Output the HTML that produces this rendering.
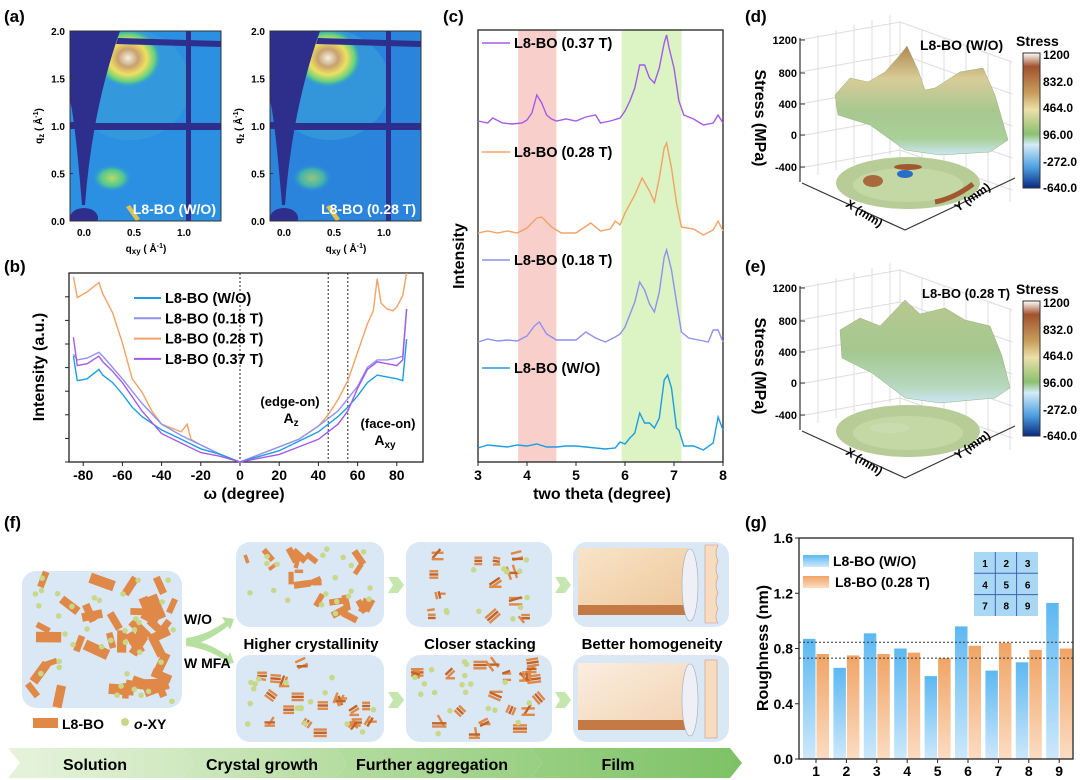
<!DOCTYPE html>
<html><head><meta charset="utf-8"><style>
body{margin:0;background:#fff}
svg{display:block;font-family:"Liberation Sans",Arial,sans-serif}
.b{font-weight:bold}
</style></head><body>
<svg id="fig" width="1080" height="780" viewBox="0 0 1080 780">
<defs>
<radialGradient id="ringG" cx="0.5" cy="0.5" r="0.5"><stop offset="0" stop-color="#f4f0e0"/><stop offset="0.3" stop-color="#c8a070"/><stop offset="0.55" stop-color="#f0e060"/><stop offset="0.8" stop-color="#60d080"/><stop offset="1" stop-color="#2a8ee0" stop-opacity="0"/></radialGradient>
<radialGradient id="lowG" cx="0.5" cy="0.5" r="0.5"><stop offset="0" stop-color="#c0e060"/><stop offset="0.6" stop-color="#50c890"/><stop offset="1" stop-color="#2a8ee0" stop-opacity="0"/></radialGradient>
<linearGradient id="gBlue" x1="0" y1="0" x2="0" y2="1"><stop offset="0" stop-color="#5cb8f2"/><stop offset="1" stop-color="#cde8fb"/></linearGradient>
<linearGradient id="gOrg" x1="0" y1="0" x2="0" y2="1"><stop offset="0" stop-color="#f0a465"/><stop offset="1" stop-color="#fcdcc2"/></linearGradient>
<linearGradient id="cbar" x1="0" y1="0" x2="0" y2="1"><stop offset="0" stop-color="#ffffff"/><stop offset="0.1" stop-color="#a0522d"/><stop offset="0.3" stop-color="#c9a05e"/><stop offset="0.42" stop-color="#ece0a8"/><stop offset="0.6" stop-color="#8cc070"/><stop offset="0.68" stop-color="#d4ecf8"/><stop offset="0.85" stop-color="#4a9ee0"/><stop offset="1" stop-color="#0a2a80"/></linearGradient>
<linearGradient id="surfD" x1="0" y1="0" x2="0" y2="1"><stop offset="0" stop-color="#b08850"/><stop offset="0.3" stop-color="#d8cc98"/><stop offset="0.6" stop-color="#a8c890"/><stop offset="0.85" stop-color="#a8d098"/><stop offset="1" stop-color="#cce6f4"/></linearGradient>
<linearGradient id="surfE" x1="0" y1="0" x2="0" y2="1"><stop offset="0" stop-color="#b8c890"/><stop offset="0.5" stop-color="#a4c890"/><stop offset="0.85" stop-color="#b8d8c0"/><stop offset="1" stop-color="#cce6f4"/></linearGradient>
<linearGradient id="ban1" x1="0" y1="0" x2="1" y2="0"><stop offset="0" stop-color="#e6f3dc"/><stop offset="1" stop-color="#cfe8bf"/></linearGradient>
<linearGradient id="ban2" x1="0" y1="0" x2="1" y2="0"><stop offset="0" stop-color="#cfe8bf"/><stop offset="1" stop-color="#b4dca0"/></linearGradient>
<linearGradient id="ban3" x1="0" y1="0" x2="1" y2="0"><stop offset="0" stop-color="#b4dca0"/><stop offset="1" stop-color="#98cf82"/></linearGradient>
<linearGradient id="ban4" x1="0" y1="0" x2="1" y2="0"><stop offset="0" stop-color="#98cf82"/><stop offset="1" stop-color="#7dc266"/></linearGradient>
<linearGradient id="film1" x1="0" y1="0" x2="1" y2="1"><stop offset="0" stop-color="#f8e4c8"/><stop offset="1" stop-color="#eec89c"/></linearGradient>
<linearGradient id="film2" x1="0" y1="0" x2="1" y2="1"><stop offset="0" stop-color="#fbeee0"/><stop offset="1" stop-color="#f2d4b4"/></linearGradient>
<clipPath id="clipA0"><rect x="70" y="31" width="151" height="190"/></clipPath>
<clipPath id="clipA1"><rect x="270" y="31" width="151" height="190"/></clipPath>
</defs>

<g class="b" font-size="17">
<text x="4" y="22">(a)</text>
<text x="4" y="272">(b)</text>
<text x="443" y="22">(c)</text>
<text x="745" y="22">(d)</text>
<text x="745" y="272">(e)</text>
<text x="4" y="528">(f)</text>
<text x="745" y="528">(g)</text>
</g>

<g id="panelA"></g>
<g id="panelB"></g>
<g id="panelC"></g>
<g id="panelD"></g>
<g id="panelE"></g>
<g id="panelF"></g>
<g id="panelG"></g>
</svg>
<script>
const NS="http://www.w3.org/2000/svg";
function mk(parent,tag,attrs,txt){const e=document.createElementNS(NS,tag);for(const k in attrs)e.setAttribute(k,attrs[k]);if(txt!==undefined)e.textContent=txt;parent.appendChild(e);return e;}

/* ---------- Panel (b) data ---------- */
const bAngles=[
 [-85,-83,-78,-72,-70,-65,-60,-55,-50,-40,-30,-20,-10,0,10,20,30,40,50,55,60,65,70,75,80,83,85],
 [-85,-83,-78,-72,-70,-65,-60,-50,-40,-30,-20,-10,0,10,20,30,40,50,60,65,70,75,80,83,85],
 [-85,-83,-78,-72,-70,-65,-60,-55,-50,-48,-45,-40,-35,-30,-27,-25,-20,-10,0,10,20,30,40,45,50,55,60,65,68,70,72,75,78,80,83,85],
 [-85,-83,-78,-72,-70,-65,-60,-50,-40,-30,-20,-10,0,10,20,30,40,50,55,60,65,70,75,80,83,85]];
const bWO=[0.56,0.43,0.44,0.49,0.46,0.42,0.36,0.29,0.24,0.17,0.12,0.07,0.04,0,0.03,0.06,0.11,0.16,0.24,0.29,0.35,0.42,0.46,0.45,0.44,0.43,0.65];
const b018=[0.57,0.54,0.55,0.58,0.56,0.50,0.44,0.31,0.20,0.14,0.09,0.04,0,0.04,0.08,0.12,0.19,0.27,0.40,0.50,0.54,0.54,0.55,0.56,0.81];
const b028=[0.98,0.87,0.90,0.95,0.89,0.79,0.63,0.44,0.37,0.33,0.27,0.20,0.18,0.16,0.20,0.12,0.09,0.04,0,0.04,0.08,0.12,0.19,0.25,0.33,0.43,0.58,0.73,0.80,0.97,0.84,0.81,0.80,0.82,0.88,1.0];
const b037=[0.66,0.51,0.52,0.56,0.53,0.48,0.42,0.27,0.15,0.10,0.05,0.03,0,0.02,0.04,0.08,0.12,0.20,0.27,0.39,0.49,0.53,0.52,0.51,0.54,0.81];
const bNames=["L8-BO (W/O)","L8-BO (0.18 T)","L8-BO (0.28 T)","L8-BO (0.37 T)"];
const bTicks=[-80,-60,-40,-20,0,20,40,60,80];
const bGuides=[0,45,55];

/* ---------- Panel (c) data ---------- */
const cTheta=[
 [3.0,3.2,3.4,3.6,3.8,4.0,4.2,4.4,4.6,4.8,5.0,5.2,5.4,5.6,5.8,5.9,6.0,6.1,6.2,6.3,6.4,6.5,6.6,6.7,6.8,6.87,6.95,7.05,7.1,7.2,7.4,7.6,7.8,7.9,8.0],
 [3.0,3.2,3.4,3.6,3.8,4.0,4.15,4.25,4.4,4.6,4.8,5.0,5.2,5.4,5.6,5.8,5.9,6.0,6.2,6.3,6.4,6.5,6.6,6.7,6.8,6.85,6.95,7.05,7.15,7.3,7.5,7.7,7.8,7.9,8.0],
 [3.0,3.2,3.4,3.6,3.8,4.0,4.2,4.3,4.5,4.7,5.0,5.3,5.5,5.7,5.8,5.9,6.0,6.2,6.35,6.5,6.6,6.7,6.8,6.85,6.95,7.05,7.15,7.4,7.6,7.8,7.9,8.0],
 [3.0,3.2,3.3,3.5,3.7,3.9,4.0,4.1,4.2,4.3,4.4,4.5,4.6,4.8,5.0,5.2,5.4,5.5,5.7,5.9,6.0,6.1,6.2,6.3,6.4,6.5,6.6,6.7,6.8,6.85,6.9,7.0,7.1,7.2,7.4,7.6,7.8,7.9,8.0]];
const cWO=[0,3,2,1,3,2,4,1,1,2,2,1,0,-1,0,6,4,10,15,35,25,25,20,30,68,73,60,20,18,2,2,-2,5,31,18];
const c018=[0,3,1,2,1,6,16,20,8,2,2,2,10,4,0,5,8,15,40,60,52,38,30,50,85,92,72,40,10,4,2,0,12,12,0];
const c028=[0,2,0,2,0,5,15,16,6,0,0,10,2,4,12,8,20,38,55,42,31,55,85,90,65,30,6,4,-2,3,12,2];
const c037=[2,0,5,0,-1,0,3,10,28,20,8,4,2,4,2,6,8,0,2,5,12,22,35,58,58,45,40,55,80,88,75,55,22,8,4,-2,0,8,0];
const cOffsets=[14,120,229,339];
const cTicks=[3,4,5,6,7,8];
const cBands=[[3.82,4.6],[5.93,7.15]];

/* ---------- Panel (g) data ---------- */
const gCats=["1","2","3","4","5","6","7","8","9"];
const gWO=[0.87,0.66,0.91,0.80,0.60,0.96,0.64,0.70,1.13];
const g028=[0.76,0.75,0.76,0.77,0.73,0.82,0.84,0.79,0.80];
const gTicks=[0.0,0.4,0.8,1.2,1.6];
const gRefs=[0.845,0.73];

const colsB=["#1c9ee2","#9090f0","#f2a266","#a45ae8"];

/* ================= Panel A ================= */
(function(){
 const P=document.getElementById('panelA');
 [[70,"L8-BO (W/O)",0],[270,"L8-BO (0.28 T)",1]].forEach(([x0,lab,k])=>{
  const g=mk(P,'g',{});
  
  
  const c=mk(g,'g',{'clip-path':'url(#clipA'+k+')'});
  mk(c,'rect',{x:x0,y:31,width:151,height:190,fill:k?'#2a84dc':'#2b90e2'});
  mk(c,'ellipse',{cx:x0+60,cy:85,rx:60,ry:55,fill:'#3aa0d8',opacity:0.6});
  mk(c,'ellipse',{cx:x0+58,cy:58,rx:34,ry:30,fill:'url(#ringG)'});
  mk(c,'ellipse',{cx:x0+42,cy:178,rx:20,ry:14,fill:'url(#lowG)',opacity:k?0.7:0.95});
  mk(c,'path',{d:`M${x0+60},${205} l10,14 l-4,2 l-10,-14z`,fill:'#e0c050'});
  mk(c,'path',{d:`M${x0},31 L${x0+50},31 Q${x0+22},110 ${x0+15},205 L${x0+12},205 Q${x0+5},120 ${x0},100 Z`,fill:'#2e2e8c'});
  mk(c,'rect',{x:x0+15,y:123,width:136,height:7,fill:'#2e2e8c'});
  mk(c,'rect',{x:x0,y:122,width:10,height:7,fill:'#2e2e8c'});
  mk(c,'path',{d:`M${x0+48},38 L${x0+151},41 L${x0+151},47 L${x0+46},44Z`,fill:'#2e2e8c'});
  mk(c,'rect',{x:x0+116,y:31,width:5,height:190,fill:'#2e2e8c'});
  mk(c,'ellipse',{cx:x0+14,cy:218,rx:14,ry:10,fill:'#2e2e8c'});
  mk(g,'rect',{x:x0,y:31,width:151,height:190,fill:'none',stroke:'#333','stroke-width':1});
  const t=mk(g,'text',{x:x0+146,y:214,'text-anchor':'end',fill:'#fff','font-size':14,'font-weight':'bold'},lab);
  
  
  ["2.0","1.5","1.0","0.5","0.0"].forEach((s,i)=>{
   const y=31+i*47.5;
   mk(g,'text',{x:x0-5,y:y+4,'text-anchor':'end','font-size':10,'font-weight':'bold'},s);
   mk(g,'line',{x1:x0,x2:x0+3,y1:y,y2:y,stroke:'#333'});
  });
  ["0.0","0.5","1.0"].forEach((s,i)=>{
   const x=x0+14+i*50;
   mk(g,'text',{x:x,y:236,'text-anchor':'middle','font-size':10,'font-weight':'bold'},s);
  });
  const xt=mk(g,'text',{x:x0+76,y:252,'text-anchor':'middle','font-size':10,'font-weight':'bold'});
  xt.innerHTML='q<tspan font-size="8" dy="2">xy</tspan><tspan dy="-2"> ( Å</tspan><tspan font-size="7" dy="-4">-1</tspan><tspan dy="4">)</tspan>';
  
  
  const yt=mk(g,'text',{transform:`translate(${x0-28},126) rotate(-90)`,'text-anchor':'middle','font-size':10,'font-weight':'bold'});
  yt.innerHTML='q<tspan font-size="8" dy="2">z</tspan><tspan dy="-2"> ( Å</tspan><tspan font-size="7" dy="-4">-1</tspan><tspan dy="4">)</tspan>';
  
  
 });
})();

/* ================= Panel B ================= */
(function(){
 const P=document.getElementById('panelB');
 const L=69,R=423,T=273,B=462;
 const xb=w=>240+w*1.96, yb=v=>B-v*189;
 mk(P,'rect',{x:L,y:T,width:R-L,height:B-T,fill:'none',stroke:'#222','stroke-width':1.3});
 bTicks.forEach(t=>{
  mk(P,'line',{x1:xb(t),x2:xb(t),y1:B,y2:B+4,stroke:'#222'});
  const lb=mk(P,'text',{x:xb(t),y:480,'text-anchor':'middle','font-size':14,'font-weight':'bold'},String(t));
  
  
 });
 for(let i=0;i<8;i++){mk(P,'line',{x1:L-4,x2:L,y1:B-i*23.6,y2:B-i*23.6,stroke:'#222'});}
 bGuides.forEach(g=>{
  const l=mk(P,'line',{x1:xb(g),x2:xb(g),y1:T,y2:B,stroke:'#222','stroke-dasharray':'2,2'});
  
  
 });
 const series=[bWO,b018,b028,b037];
 [2,1,0,3].forEach(k=>{
  const d=bAngles[k].map((w,i)=>(i?'L':'M')+xb(w).toFixed(1)+','+yb(Math.min(series[k][i],1)).toFixed(1)).join(' ');
  const p=mk(P,'path',{d:d,fill:'none',stroke:colsB[k],'stroke-width':1.4});
  
  
 });
 bNames.forEach((n,i)=>{
  const y=303+i*20.3;
  mk(P,'line',{x1:134,x2:161,y1:y-5,y2:y-5,stroke:colsB[i],'stroke-width':2});
  const t=mk(P,'text',{x:165,y:y,'font-size':14.5,'font-weight':'bold'},n);
  
  
 });
 mk(P,'text',{x:290,y:406,'text-anchor':'middle','font-size':13,'font-weight':'bold'},'(edge-on)');
 const az=mk(P,'text',{x:291,y:423,'text-anchor':'middle','font-size':14,'font-weight':'bold'});az.innerHTML='A<tspan font-size="10" dy="3">z</tspan>';
 mk(P,'text',{x:388,y:428,'text-anchor':'middle','font-size':13,'font-weight':'bold'},'(face-on)');
 const axy=mk(P,'text',{x:385,y:445,'text-anchor':'middle','font-size':14,'font-weight':'bold'});axy.innerHTML='A<tspan font-size="10" dy="3">xy</tspan>';
 const yt=mk(P,'text',{transform:'translate(44,367) rotate(-90)','text-anchor':'middle','font-size':16,'font-weight':'bold'},'Intensity (a.u.)');
 
 
 const xt=mk(P,'text',{x:244,y:499,'text-anchor':'middle','font-size':16,'font-weight':'bold'},'ω (degree)');
 
 
})();

/* ================= Panel C ================= */
(function(){
 const P=document.getElementById('panelC');
 const L=478,R=723,T=30,B=462;
 const xc=t=>L+(t-3)/5*(R-L), yc=v=>B-v;
 cBands.forEach((b,i)=>{
  const r=mk(P,'rect',{x:xc(b[0]),y:T,width:xc(b[1])-xc(b[0]),height:B-T,fill:i?'#dcf3c4':'#f8cfcb'});
  
  
 });
 mk(P,'rect',{x:L,y:T,width:R-L,height:B-T,fill:'none',stroke:'#222','stroke-width':1.3});
 cTicks.forEach(t=>{
  mk(P,'line',{x1:xc(t),x2:xc(t),y1:B,y2:B+4,stroke:'#222'});
  const lb=mk(P,'text',{x:xc(t),y:480,'text-anchor':'middle','font-size':14,'font-weight':'bold'},String(t));
  
  
 });
 const series=[cWO,c018,c028,c037];
 const names=["L8-BO (W/O)","L8-BO (0.18 T)","L8-BO (0.28 T)","L8-BO (0.37 T)"];
 series.forEach((s,k)=>{
  const d=cTheta[k].map((t,i)=>(i?'L':'M')+xc(t).toFixed(1)+','+yc(cOffsets[k]+s[i]).toFixed(1)).join(' ');
  const p=mk(P,'path',{d:d,fill:'none',stroke:colsB[k],'stroke-width':1.4});
  
  
  const ly=[368,260,152,43][k];
  mk(P,'line',{x1:482,x2:510,y1:ly,y2:ly,stroke:colsB[k],'stroke-width':1.5});
  const t=mk(P,'text',{x:514,y:ly+5,'font-size':14.5,'font-weight':'bold'},names[k]);
  
  
 });
 const yt=mk(P,'text',{transform:'translate(464,256) rotate(-90)','text-anchor':'middle','font-size':16,'font-weight':'bold'},'Intensity');
 
 
 const xt=mk(P,'text',{x:602,y:499,'text-anchor':'middle','font-size':16,'font-weight':'bold'},'two theta (degree)');
 
 
})();

/* ================= Panels D/E ================= */
function stress(P,label,surf,pts,wo){
 const g=mk(P,'g',{});
 for(let i=0;i<6;i++){
  mk(g,'line',{x1:800+i*18,y1:40-i*5,x2:800+i*18,y2:180-i*5,stroke:'#ddd'});
  mk(g,'line',{x1:900+i*22,y1:22+i*8,x2:900+i*22,y2:162+i*8,stroke:'#ddd'});
 }
 for(let j=0;j<5;j++){
  const y=40+j*32;
  mk(g,'line',{x1:800,y1:y,x2:900,y2:y-18,stroke:'#ddd'});
  mk(g,'line',{x1:900,y1:y-18,x2:1012,y2:y+22,stroke:'#ddd'});
 }
 mk(g,'line',{x1:800,y1:38,x2:800,y2:182,stroke:'#333','stroke-width':1.2});
 [["1200",40],["800",73],["400",104],["0",135],["-400",167]].forEach(([s,y])=>{
  mk(g,'text',{x:797,y:y+4,'text-anchor':'end','font-size':11,'font-weight':'bold'},s);
  mk(g,'line',{x1:800,x2:805,y1:y,y2:y,stroke:'#333'});
 });
 mk(g,'text',{transform:'translate(755,118) rotate(90)','text-anchor':'middle','font-size':16,'font-weight':'bold'},'Stress (MPa)');
 mk(g,'path',{d:'M802,183 L905,230 L1015,178',fill:'none',stroke:'#333','stroke-width':1.2});
 mk(g,'ellipse',{cx:908,cy:183,rx:72,ry:26,fill:'#b8cc98'});
 mk(g,'ellipse',{cx:908,cy:185,rx:55,ry:17,fill:'#c4d8a6'});
 if(wo){
  mk(g,'ellipse',{cx:908,cy:167,rx:14,ry:3,fill:'#a0582e'});
  mk(g,'ellipse',{cx:873,cy:181,rx:10,ry:6,fill:'#a86a3c'});
  mk(g,'ellipse',{cx:905,cy:174,rx:8,ry:4,fill:'#2a6ec8'});
  mk(g,'path',{d:'M935,202 q20,-4 38,-18',fill:'none',stroke:'#a0582e','stroke-width':5});
 } else {
  mk(g,'ellipse',{cx:890,cy:180,rx:20,ry:5,fill:'#c8dcb0'});
 }
 mk(g,'text',{transform:'translate(845,206) rotate(32)','font-size':12,'font-weight':'bold'},'X (mm)');
 mk(g,'text',{transform:'translate(958,212) rotate(-35)','font-size':12,'font-weight':'bold'},'Y (mm)');
 mk(g,'polygon',{points:pts,fill:'url(#'+surf+')',stroke:'#9ab080','stroke-width':0.5});
 mk(g,'text',{x:wo?920:922,y:50,'font-size':wo?14:13,'font-weight':'bold'},label);
 mk(g,'text',{x:1016,y:46,'font-size':14,'font-weight':'bold'},'Stress');
 mk(g,'rect',{x:1023,y:53,width:17,height:135,fill:'url(#cbar)',stroke:'#333'});
 [["1200",55],["832.0",82],["464.0",108],["96.00",135],["-272.0",162],["-640.0",188]].forEach(([s,y])=>{
  mk(g,'text',{x:1043,y:y+4,'font-size':12,'font-weight':'bold'},s);
 });
 return g;
}
(function(){
 const d=stress(document.getElementById('panelD'),'L8-BO (W/O)','surfD','835,95 850,78 868,82 885,72 900,55 907,46 918,70 925,90 935,88 960,72 983,68 995,95 1008,140 990,152 940,155 905,150 870,125 838,115',true);
 
 
 const e=stress(document.getElementById('panelE'),'L8-BO (0.28 T)','surfE','840,82 860,70 880,78 905,52 920,66 945,60 965,72 990,78 1002,108 1010,140 995,150 940,155 905,150 872,125 842,110',false);
 e.setAttribute('transform','translate(0,248)');
 
 
})();

/* ================= Panel F ================= */
(function(){
 const P=document.getElementById('panelF');
 let seed=7;const rnd=()=>{seed=(seed*16807)%2147483647;return seed/2147483647;};
 function box(x,y,w,h,name){const r=mk(P,'rect',{x:x,y:y,width:w,height:h,rx:14,fill:'#dae8f5'});
  
  }
 function flakes(x,y,w,h,n,stack,size){
  for(let i=0;i<n;i++){const cx=x+10+rnd()*(w-20),cy=y+8+rnd()*(h-16),a=rnd()*180;
   const s=size*(0.6+rnd()*0.6);
   const reps=stack?3:1;
   for(let k=0;k<reps;k++) mk(P,'rect',{x:cx-s/2,y:cy-s/4+k*3.2,width:s,height:stack?2.4:s/2.4,fill:k%2?'#c26428':'#e08848',transform:`rotate(${stack?(rnd()<0.5?0:a):a} ${cx} ${cy})`});
  }
  for(let i=0;i<n*0.9;i++){mk(P,'circle',{cx:x+8+rnd()*(w-16),cy:y+6+rnd()*(h-12),r:2.8,fill:'#c8d88a'});}
 }
 box(22,571,160,137,'solution-box');flakes(22,571,160,137,40,false,22);
 box(236,542,148,85,'crystal-growth-wo');flakes(236,542,148,85,22,false,14);
 box(406,542,146,85,'aggregation-wo');flakes(406,542,146,85,12,true,12);
 box(573,542,156,85,'film-wo');
 box(236,655,148,87,'crystal-growth-mfa');flakes(236,655,148,87,18,true,11);
 box(406,655,146,87,'aggregation-mfa');flakes(406,655,146,87,20,true,12);
 box(573,655,156,87,'film-mfa');
 mk(P,'path',{d:'M578,548 L688,548 L688,607 Q640,612 578,607Z',fill:'url(#film1)'});
 mk(P,'rect',{x:578,y:605,width:110,height:10,fill:'#c47a44'});
 mk(P,'path',{d:'M578,663 L688,663 L688,722 L578,722Z',fill:'url(#film2)'});
 mk(P,'rect',{x:578,y:720,width:110,height:10,fill:'#c47a44'});
 mk(P,'ellipse',{cx:690,cy:585,rx:8,ry:36,fill:'#eef0f6',stroke:'#9ab','stroke-width':0.6});
 mk(P,'ellipse',{cx:690,cy:700,rx:8,ry:36,fill:'#eef0f6',stroke:'#9ab','stroke-width':0.6});
 mk(P,'path',{d:'M705,545 L718,545 q-4,8 0,16 q-4,8 0,16 q-4,8 0,16 q-4,8 0,16 q-4,8 0,14 L705,623Z',fill:'#f8dcc0',stroke:'#c98','stroke-width':0.6});
 mk(P,'rect',{x:705,y:660,width:12,height:78,fill:'#f8dcc0',stroke:'#c98','stroke-width':0.6});
 [[388,585],[555,585],[388,700],[555,700]].forEach(([x,y])=>mk(P,'polygon',{points:`${x},${y-8} ${x+10},${y-8} ${x+16},${y} ${x+10},${y+8} ${x},${y+8} ${x+5},${y}`,fill:'#c6e6b0'}));
 mk(P,'path',{d:'M186,638 Q205,636 225,622 l-3,-5 l12,2 l-4,11 l-2,-4 Q205,644 186,646Z',fill:'#b6e0a0'});
 mk(P,'path',{d:'M186,646 Q205,648 225,660 l-3,5 l12,-2 l-4,-11 l-2,4 Q205,640 186,640Z',fill:'#b6e0a0'});
 mk(P,'text',{x:184,y:624,'font-size':14,'font-weight':'bold'},'W/O');
 mk(P,'text',{x:184,y:668,'font-size':14,'font-weight':'bold'},'W MFA');
 [["Higher crystallinity",311],["Closer stacking",480],["Better homogeneity",652]].forEach(([s,x])=>{
  const t=mk(P,'text',{x:x,y:649,'text-anchor':'middle','font-size':15,'font-weight':'bold'},s);
  
  
 });
 mk(P,'rect',{x:33,y:718,width:25,height:10,fill:'#e08848'});
 mk(P,'text',{x:62,y:729,'font-size':14,'font-weight':'bold'},'L8-BO');
 mk(P,'circle',{cx:125,cy:722,r:4,fill:'#c8d88a'});
 mk(P,'text',{x:134,y:729,'font-size':14,'font-weight':'bold','font-style':'italic'},'o');
 mk(P,'text',{x:143,y:729,'font-size':14,'font-weight':'bold'},'-XY');
 const chev=[[8,182,'ban1','Solution',95],[182,335,'ban2','Crystal growth',262],[335,530,'ban3','Further aggregation',432],[530,730,'ban4','Film',618]];
 chev.forEach(([a,b,f,s,tx])=>{
  const pg=mk(P,'polygon',{points:`${a},748 ${b},748 ${b+12},763 ${b},778 ${a},778 ${a+12},763`,fill:'url(#'+f+')'});
  
  
  mk(P,'text',{x:tx,y:770,'text-anchor':'middle','font-size':16,'font-weight':'bold'},s);
 });
})();

/* ================= Panel G ================= */
(function(){
 const P=document.getElementById('panelG');
 const L=799,R=1073,T=538,B=759;
 const yg=v=>B-v/1.6*(B-T);
 const xg=i=>816+i*30.4;
 gWO.forEach((v,i)=>{
  const r=mk(P,'rect',{x:xg(i)-13,y:yg(v),width:12.5,height:B-yg(v),fill:'url(#gBlue)'});
  
  
 });
 g028.forEach((v,i)=>{
  const r=mk(P,'rect',{x:xg(i)+0.5,y:yg(v),width:12.5,height:B-yg(v),fill:'url(#gOrg)'});
  
  
 });
 gRefs.forEach(v=>{
  const l=mk(P,'line',{x1:L,x2:R,y1:yg(v),y2:yg(v),stroke:'#333','stroke-dasharray':'2,2'});
  
  
 });
 mk(P,'rect',{x:L,y:T,width:R-L,height:B-T,fill:'none',stroke:'#222','stroke-width':1.3});
 gTicks.forEach(t=>{
  mk(P,'line',{x1:L-4,x2:L,y1:yg(t),y2:yg(t),stroke:'#222'});
  const lb=mk(P,'text',{x:L-6,y:yg(t)+5,'text-anchor':'end','font-size':14,'font-weight':'bold'},t.toFixed(1));
  
  
 });
 gCats.forEach((c,i)=>{
  mk(P,'line',{x1:xg(i),x2:xg(i),y1:B,y2:B+4,stroke:'#222'});
  const lb=mk(P,'text',{x:xg(i),y:776,'text-anchor':'middle','font-size':14,'font-weight':'bold'},c);
  
  
 });
 mk(P,'rect',{x:803,y:555,width:26,height:12,fill:'url(#gBlue)'});
 mk(P,'rect',{x:803,y:576,width:26,height:12,fill:'url(#gOrg)'});
 const l1=mk(P,'text',{x:833,y:566,'font-size':14,'font-weight':'bold'},'L8-BO (W/O)');
 
 
 const l2=mk(P,'text',{x:835,y:587,'font-size':14,'font-weight':'bold'},'L8-BO (0.28 T)');
 
 
 mk(P,'rect',{x:974,y:552,width:64,height:64,fill:'#a8d8f4'});
 for(let k=1;k<3;k++){mk(P,'line',{x1:974+k*21.3,x2:974+k*21.3,y1:552,y2:616,stroke:'#4060b0'});mk(P,'line',{x1:974,x2:1038,y1:552+k*21.3,y2:552+k*21.3,stroke:'#4060b0'});}
 for(let n=0;n<9;n++){mk(P,'text',{x:985+(n%3)*21.3,y:567+Math.floor(n/3)*21.3,'text-anchor':'middle','font-size':10,'font-weight':'bold'},String(n+1));}
 const yt=mk(P,'text',{transform:'translate(768,648) rotate(-90)','text-anchor':'middle','font-size':16,'font-weight':'bold'},'Roughness (nm)');
 
 
})();
</script>
</body></html>
